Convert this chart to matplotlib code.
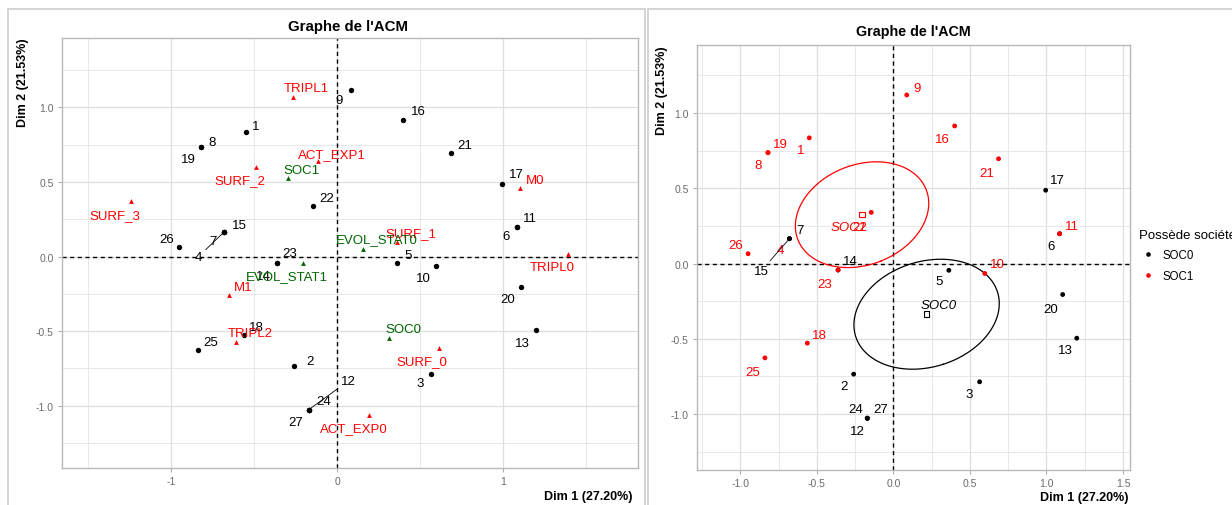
import numpy as np
import matplotlib
matplotlib.use("Agg")
import matplotlib.pyplot as plt
from matplotlib.lines import Line2D
from matplotlib.ticker import MultipleLocator

plt.rcParams["font.family"] = ["Liberation Sans", "DejaVu Sans"]

# individuals (MCA coordinates on dims 1 and 2) and their SOC group
ind_names = [str(i) for i in range(1, 28)]
ind_dim1 = [-0.55, -0.26, 0.563, -0.68, 0.362, 1.086, -0.68, -0.82, 0.087, 0.597,
            1.086, -0.171, 1.198, -0.362, -0.68, 0.40, 0.995, -0.563, -0.82, 1.106,
            0.687, -0.145, -0.362, -0.171, -0.84, -0.95, -0.171]
ind_dim2 = [0.835, -0.735, -0.786, 0.165, -0.045, 0.198, 0.165, 0.737, 1.12, -0.066,
            0.198, -1.028, -0.496, -0.043, 0.165, 0.914, 0.487, -0.529, 0.737, -0.206,
            0.696, 0.34, -0.043, -1.028, -0.627, 0.065, -1.028]
ind_soc = ["SOC1", "SOC0", "SOC0", "SOC1", "SOC0", "SOC0", "SOC0", "SOC1", "SOC1", "SOC1",
           "SOC1", "SOC0", "SOC0", "SOC0", "SOC0", "SOC1", "SOC0", "SOC1", "SOC1", "SOC0",
           "SOC1", "SOC1", "SOC1", "SOC0", "SOC1", "SOC1", "SOC0"]

# active categories
cat_names = ["ACT_EXP0", "ACT_EXP1", "SURF_0", "SURF_1", "SURF_2", "SURF_3",
             "TRIPL0", "TRIPL1", "TRIPL2", "M0", "M1"]
cat_dim1 = [0.193, -0.113, 0.616, 0.36, -0.49, -1.241, 1.393, -0.263, -0.61, 1.102, -0.649]
cat_dim2 = [-1.064, 0.639, -0.612, 0.10, 0.603, 0.370, 0.017, 1.068, -0.576, 0.458, -0.258]

# supplementary categories
sup_names = ["SOC0", "SOC1", "EVOL_STAT0", "EVOL_STAT1"]
sup_dim1 = [0.315, -0.293, 0.158, -0.203]
sup_dim2 = [-0.549, 0.527, 0.05, -0.044]

soc_levels = ["SOC0", "SOC1"]
soc_colors = {"SOC0": "black", "SOC1": "#FF0000"}

# label placement (pixel offsets, x right / y down)
off_ind_left = {1: (10, -6), 2: (16, -5), 3: (-10, 9), 4: (-26, 25), 5: (11, -8),
                6: (-11, 9), 7: (-11, 9), 8: (11, -5), 9: (-12, 10), 10: (-13, 12),
                11: (13, -9), 12: (40, -29), 13: (-14, 13), 14: (-14, 13), 15: (15, -7),
                16: (15, -9), 17: (14, -10), 18: (13, -8), 19: (-13, 12), 20: (-13, 12),
                21: (14, -8), 22: (14, -8), 23: (13, -10), 24: (15, -9), 25: (13, -8),
                26: (-13, -8), 27: (-13, 12)}
off_ind_right = {1: (-9, 12), 2: (-10, 12), 3: (-10, 12), 4: (-9, 11), 5: (-10, 11),
                 6: (-9, 12), 7: (11, -9), 8: (-10, 12), 9: (10, -7), 10: (13, -9),
                 11: (12, -8), 12: (-10, 13), 13: (-11, 12), 14: (12, -9), 15: (-28, 32),
                 16: (-12, 13), 17: (12, -10), 18: (12, -8), 19: (12, -9), 20: (-12, 14),
                 21: (-12, 14), 22: (-12, 15), 23: (-13, 14), 24: (-12, -9), 25: (-12, 14),
                 26: (-12, -9), 27: (13, -9)}
seg_left = {4, 12}
seg_right = {15}
off_cat = {"ACT_EXP0": (-15, 13), "ACT_EXP1": (14, -7), "SURF_0": (-17, 13),
           "SURF_1": (14, -9), "SURF_2": (-16, 13), "SURF_3": (-16, 14),
           "TRIPL0": (-16, 13), "TRIPL1": (13, -9), "TRIPL2": (14, -9),
           "M0": (15, -8), "M1": (14, -8), "SOC0": (14, -9), "SOC1": (13, -8),
           "EVOL_STAT0": (14, -10), "EVOL_STAT1": (-16, 13)}
off_centroid = {"SOC0": (12, -9), "SOC1": (-13, 12)}

W, H = 1232, 506
LAB = 9.5
fig = plt.figure(figsize=(W / 100, H / 100), dpi=100)


def axes_px(x0, y0, x1, y1):
    return fig.add_axes([x0 / W, 1 - y1 / H, (x1 - x0) / W, (y1 - y0) / H])


def frame_line(xs, ys):
    fig.add_artist(Line2D([x / W for x in xs], [1 - y / H for y in ys],
                          transform=fig.transFigure, color="#d4d4d4", lw=1.4))


def style(ax, xlim, ylim, xmajor, xminor, xfmt):
    ax.set_xlim(xlim)
    ax.set_ylim(ylim)
    ax.xaxis.set_major_locator(MultipleLocator(xmajor))
    ax.xaxis.set_minor_locator(MultipleLocator(xminor))
    ax.yaxis.set_major_locator(MultipleLocator(0.5))
    ax.yaxis.set_minor_locator(MultipleLocator(0.25))
    ax.xaxis.set_major_formatter(lambda v, p: xfmt.format(0.0) if abs(v) < 1e-9 else xfmt.format(v))
    ax.yaxis.set_major_formatter(lambda v, p: "0.0" if abs(v) < 1e-9 else f"{v:.1f}")
    ax.grid(which="major", color="#dedede", lw=0.9)
    ax.grid(which="minor", color="#e4e4e4", lw=0.6)
    ax.set_axisbelow(True)
    ax.tick_params(which="minor", length=0)
    ax.tick_params(which="major", length=3, width=0.6, color="#9a9a9a",
                   labelsize=7.5, labelcolor="#6b6b6b", pad=3)
    for s in ax.spines.values():
        s.set_color("#b8b8b8")
        s.set_linewidth(1.0)
    ax.axhline(0, color="black", ls=(0, (3, 2.5)), lw=1.0, zorder=1.5)
    ax.axvline(0, color="black", ls=(0, (3, 2.5)), lw=1.0, zorder=1.5)


def label(ax, text, x, y, off, color, seg=False, **kw):
    props = None
    if seg:
        props = dict(arrowstyle="-", color=color, lw=0.6, shrinkA=1, shrinkB=2)
    ax.annotate(text, (x, y), xytext=(off[0], -off[1]), textcoords="offset pixels",
                ha="center", va="center", fontsize=LAB, color=color,
                arrowprops=props, zorder=5, **kw)


# outer frames of the two plots
frame_line([8, 8], [10, 506])
frame_line([8, 645], [10, 10])
frame_line([645, 645], [10, 506])
frame_line([648, 648], [10, 506])
frame_line([648, 1232], [10, 10])

# ---- left: individuals and categories
ax1 = axes_px(62, 39, 638, 469)
style(ax1, (-1.657, 1.813), (-1.419, 1.466), 1, 0.5, "{:.0f}")
ax1.scatter(ind_dim1, ind_dim2, s=15, color="black", zorder=3, linewidths=0)
ax1.scatter(cat_dim1, cat_dim2, s=12, marker="^", color="#FF0000", zorder=3, linewidths=0)
ax1.scatter(sup_dim1, sup_dim2, s=12, marker="^", color="#006400", zorder=3, linewidths=0)
for i, name in enumerate(ind_names):
    k = i + 1
    label(ax1, name, ind_dim1[i], ind_dim2[i], off_ind_left[k], "black", seg=k in seg_left)
for name, x, y in zip(cat_names, cat_dim1, cat_dim2):
    label(ax1, name, x, y, off_cat[name], "#FF0000")
for name, x, y in zip(sup_names, sup_dim1, sup_dim2):
    label(ax1, name, x, y, off_cat[name], "#006400")

fig.text(348 / W, 1 - 27 / H, "Graphe de l'ACM", ha="center", va="center",
         fontsize=10.8, weight="bold")
fig.text(633 / W, 1 - 497 / H, "Dim 1 (27.20%)", ha="right", va="center",
         fontsize=9, weight="bold")
fig.text(23 / W, 1 - 38 / H, "Dim 2 (21.53%)", ha="center", va="top",
         rotation=90, fontsize=9, weight="bold")

# ---- right: individuals coloured by SOC with 95% confidence ellipses of the mean
ax2 = axes_px(697, 46, 1130, 471)
style(ax2, (-1.284, 1.546), (-1.372, 1.452), 0.5, 0.25, "{:.1f}")

x_all = np.array(ind_dim1)
y_all = np.array(ind_dim2)
soc = np.array(ind_soc)

for lev in soc_levels:
    m = soc == lev
    pts = np.column_stack([x_all[m], y_all[m]])
    mean = pts.mean(axis=0)
    cov = np.cov(pts.T) / len(pts)
    vals, vecs = np.linalg.eigh(cov)
    t = np.linspace(0, 2 * np.pi, 200)
    circ = np.vstack([np.cos(t), np.sin(t)])
    ell = vecs @ (np.sqrt(vals * 5.991)[:, None] * circ)
    ax2.plot(mean[0] + ell[0], mean[1] + ell[1], color=soc_colors[lev], lw=0.9, zorder=2)
    ax2.scatter([mean[0]], [mean[1]], marker="s", s=16, facecolors="none",
                edgecolors=soc_colors[lev], linewidths=0.8, zorder=3)
    label(ax2, lev, mean[0], mean[1], off_centroid[lev], soc_colors[lev], style="italic")

ax2.scatter(x_all, y_all, s=12, c=[soc_colors[s] for s in ind_soc], zorder=3, linewidths=0)
for i, name in enumerate(ind_names):
    k = i + 1
    label(ax2, name, ind_dim1[i], ind_dim2[i], off_ind_right[k], soc_colors[ind_soc[i]],
          seg=k in seg_right)

fig.text(913 / W, 1 - 32 / H, "Graphe de l'ACM", ha="center", va="center",
         fontsize=10.3, weight="bold")
fig.text(1129 / W, 1 - 498 / H, "Dim 1 (27.20%)", ha="right", va="center",
         fontsize=9, weight="bold")
fig.text(662 / W, 1 - 46 / H, "Dim 2 (21.53%)", ha="center", va="top",
         rotation=90, fontsize=9, weight="bold")

handles = [Line2D([], [], ls="none", marker="o", ms=3.3, color=soc_colors[lev],
                  markeredgewidth=0) for lev in soc_levels]
leg = ax2.legend(handles, soc_levels, title="Possède société", loc="upper left",
                 bbox_to_anchor=(1133 / W, 1 - 224 / H), bbox_transform=fig.transFigure,
                 frameon=False, fontsize=8.3, title_fontsize=9.5, borderpad=0,
                 handlelength=1.6, handletextpad=0.5, labelspacing=0.75,
                 alignment="left")

fig.savefig("out.png", dpi=100)
